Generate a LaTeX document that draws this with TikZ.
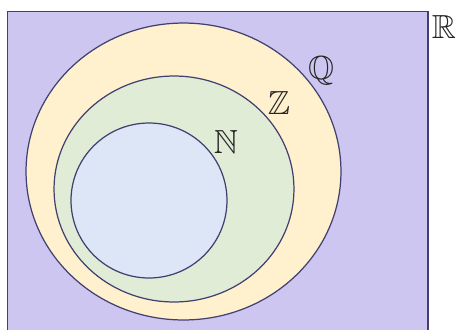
\documentclass[tikz,border=0pt]{standalone}
\usepackage{amsmath, amssymb}
\usepackage{tikz}
\usetikzlibrary{positioning,shapes.geometric}
\definecolor{realfill}{RGB}{204,198,240}
\definecolor{ratfill}{RGB}{255,240,206}
\definecolor{intfill}{RGB}{224,236,214}
\definecolor{natfill}{RGB}{220,230,246}
\definecolor{setline}{RGB}{66,64,112}
\tikzset{
  realset/.style={draw=setline, fill=realfill, line width=0.7pt},
  numset/.style={ellipse, draw=setline, line width=0.7pt, inner sep=0pt},
  setlabel/.style={font=\fontsize{19}{22}\selectfont, inner sep=0pt, text=black!85}
}

\begin{document}
\begin{tikzpicture}[x=0.02cm, y=-0.02cm]
  \clip (0,0) rectangle (457,329);
  \fill[white] (0,0) rectangle (457,329);
  \draw[realset] (7.5,340) -- (7.5,11.5) -- (428,11.5) -- (428,340);
  \node[numset, fill=ratfill, minimum width=6.3cm, minimum height=5.94cm] (rat) at (183.5,171.5) {};
  \node[numset, fill=intfill, minimum width=4.8cm, minimum height=4.52cm] (int) at (174,189) {};
  \node[numset, fill=natfill, minimum width=3.12cm, minimum height=3.1cm] (nat) at (149,200.5) {};
  \node[setlabel] (rlab) at (444,27) {$\mathbb{R}$};
  \node[setlabel] (qlab) at (321,71) {$\mathbb{Q}$};
  \node[setlabel] (zlab) at (279,103) {$\mathbb{Z}$};
  \node[setlabel] (nlab) at (226,142) {$\mathbb{N}$};
\end{tikzpicture}
\end{document}
